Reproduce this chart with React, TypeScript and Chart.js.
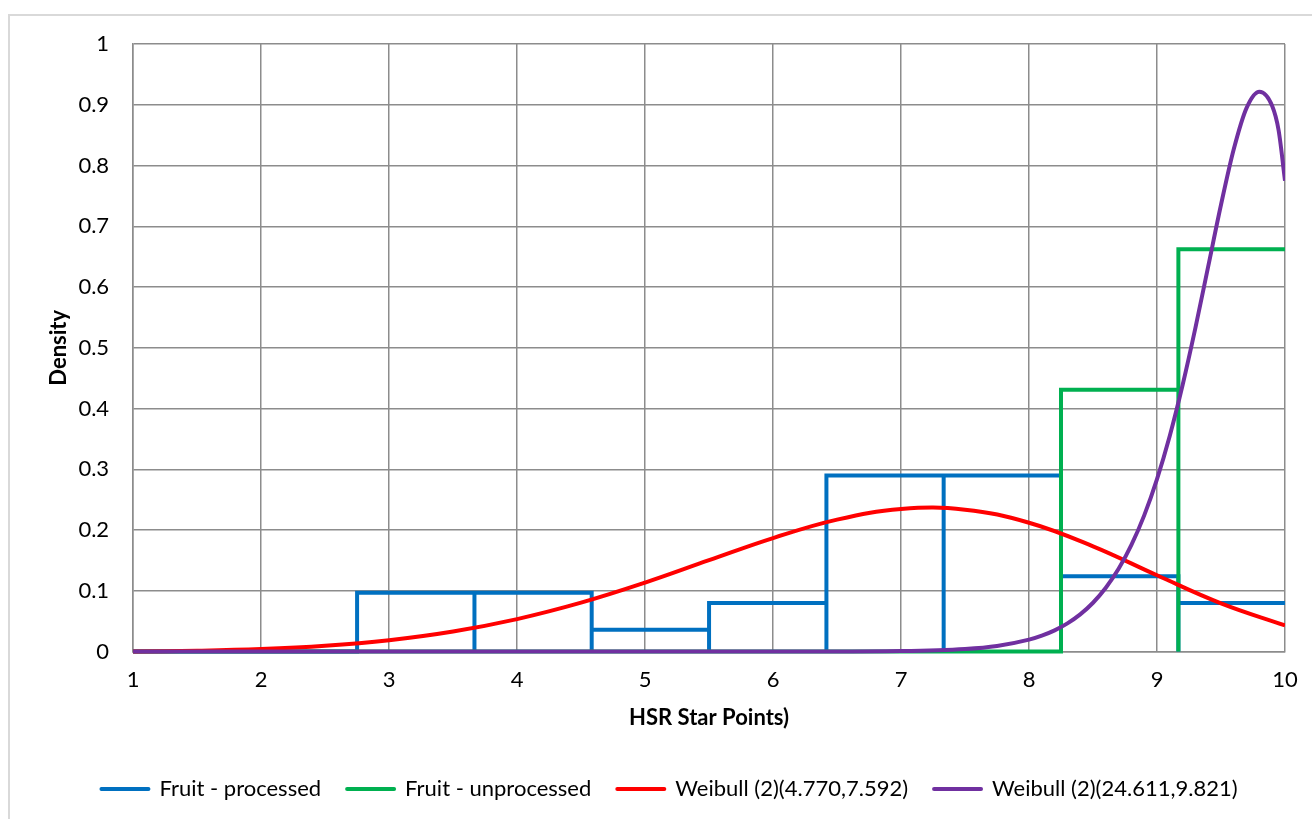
import React, { useEffect, useRef } from "react";
import { Chart, registerables } from "chart.js";

Chart.register(...registerables);

// Axis ticks
const xTickValues = [1, 2, 3, 4, 5, 6, 7, 8, 9, 10];
const yTickValues = [0, 0.1, 0.2, 0.3, 0.4, 0.5, 0.6, 0.7, 0.8, 0.9, 1];

// Histogram bins (HSR star points)
const binEdges = [2.75, 3.667, 4.583, 5.5, 6.417, 7.333, 8.25, 9.167, 10.083];
const processedDensity = [0.097, 0.097, 0.036, 0.08, 0.29, 0.29, 0.124, 0.08];
const unprocessedDensity = [0, 0, 0, 0, 0, 0, 0.431, 0.662];

// Fitted curves
const weibullRedX = [1, 1.5, 2, 2.5, 3, 3.5, 4, 4.5, 5, 5.5, 6, 6.5, 7, 7.5, 8, 8.5, 9, 9.5, 10];
const weibullRedY = [0.0003, 0.0014, 0.0041, 0.0095, 0.0188, 0.0331, 0.0535, 0.0805, 0.1135, 0.1504, 0.1868, 0.2172, 0.2346, 0.2336, 0.2121, 0.1733, 0.1256, 0.0794, 0.043];

const weibullPurpleX = [1, 2, 3, 4, 5, 6, 6.5, 7, 7.5, 7.75, 8, 8.1, 8.2, 8.3, 8.4, 8.5, 8.6, 8.7, 8.8, 8.9, 9, 9.1, 9.2, 9.3, 9.4, 9.5, 9.6, 9.7, 9.8, 9.9, 9.95, 10];
const weibullPurpleY = [0, 0, 0, 0, 0, 0, 0.0002, 0.0008, 0.0043, 0.0093, 0.0197, 0.0263, 0.035, 0.0464, 0.0612, 0.0804, 0.105, 0.1362, 0.1755, 0.2242, 0.2839, 0.3553, 0.4387, 0.5327, 0.6339, 0.7354, 0.8271, 0.8949, 0.9215, 0.898, 0.858, 0.775];

const seriesLabels = ["Fruit - processed", "Fruit - unprocessed", "Weibull (2)(4.770,7.592)", "Weibull (2)(24.611,9.821)"];
const seriesColors = ["#0070C0", "#00B050", "#FF0000", "#7030A0"];

const xTitle = "HSR Star Points)";
const yTitle = "Density";

function histogramOutline(edges: number[], heights: number[], start: number) {
  const pts: { x: number; y: number }[] = [{ x: start, y: 0 }];
  for (let i = 0; i < heights.length; i++) {
    const a = edges[i];
    const b = edges[i + 1];
    pts.push({ x: a, y: 0 }, { x: a, y: heights[i] }, { x: b, y: heights[i] }, { x: b, y: 0 });
  }
  return pts;
}

function zipPoints(xs: number[], ys: number[]) {
  return xs.map((x, i) => ({ x, y: ys[i] }));
}

const FONT = "Lato";
const FS = 22;

export default function App() {
  const ref = useRef<HTMLCanvasElement>(null);

  useEffect(() => {
    Chart.defaults.font.family = FONT;
    const lineBase = {
      borderWidth: 4,
      pointRadius: 0,
      pointHoverRadius: 0,
      fill: false,
      borderJoinStyle: "miter" as const,
      clip: { left: 2, top: 2, right: 0, bottom: 3 },
    };
    const chart = new Chart(ref.current!, {
      type: "line",
      data: {
        datasets: [
          {
            ...lineBase,
            label: seriesLabels[0],
            data: histogramOutline(binEdges, processedDensity, xTickValues[0]),
            borderColor: seriesColors[0],
            backgroundColor: seriesColors[0],
            tension: 0,
            order: 3,
          },
          {
            ...lineBase,
            label: seriesLabels[1],
            data: histogramOutline(binEdges, unprocessedDensity, xTickValues[0]),
            borderColor: seriesColors[1],
            backgroundColor: seriesColors[1],
            tension: 0,
            order: 2,
          },
          {
            ...lineBase,
            label: seriesLabels[2],
            data: zipPoints(weibullRedX, weibullRedY),
            borderColor: seriesColors[2],
            backgroundColor: seriesColors[2],
            tension: 0.4,
            order: 1,
          },
          {
            ...lineBase,
            label: seriesLabels[3],
            data: zipPoints(weibullPurpleX, weibullPurpleY),
            borderColor: seriesColors[3],
            backgroundColor: seriesColors[3],
            cubicInterpolationMode: "monotone",
            order: 0,
          },
        ],
      },
      options: {
        animation: false,
        responsive: false,
        events: [],
        layout: { padding: { left: 54, right: 27, top: 44, bottom: 9 } },
        plugins: {
          tooltip: { enabled: false },
          legend: {
            position: "bottom",
            labels: {
              usePointStyle: true,
              pointStyleWidth: 47,
              padding: 26,
              color: "#000",
              font: { size: FS, family: FONT },
              sort: (a: any, b: any) => a.datasetIndex - b.datasetIndex,
              generateLabels: (c: any) =>
                (Chart.defaults.plugins.legend.labels as any).generateLabels(c).map((it: any) => ({
                  ...it,
                  pointStyle: "line",
                  lineCap: "round",
                  lineWidth: 4,
                  strokeStyle: seriesColors[it.datasetIndex],
                  fillStyle: seriesColors[it.datasetIndex],
                })),
            },
          },
        },
        scales: {
          x: {
            type: "linear",
            min: 1,
            max: 10,
            afterBuildTicks: (s: any) => {
              s.ticks = xTickValues.map((v) => ({ value: v }));
            },
            ticks: {
              padding: 8,
              color: "#000",
              font: { size: FS, family: FONT, lineHeight: 1.818 },
              maxRotation: 0,
              autoSkip: false,
              callback: (v: any) => String(v),
            },
            grid: { color: "#8c8c8c", lineWidth: 1.5, drawTicks: false },
            border: { display: true, color: "#8c8c8c", width: 1.5 },
            title: {
              display: true,
              text: xTitle,
              color: "#000",
              font: { size: FS, weight: "bold", family: FONT },
              padding: { top: -3, bottom: 21 },
            },
          },
          y: {
            type: "linear",
            min: 0,
            max: 1,
            afterBuildTicks: (s: any) => {
              s.ticks = yTickValues.map((v) => ({ value: v }));
            },
            ticks: {
              padding: 24,
              color: "#000",
              font: { size: FS, family: FONT },
              callback: (v: any) => String(Math.round(Number(v) * 10) / 10),
            },
            grid: { color: "#8c8c8c", lineWidth: 1.5, drawTicks: false },
            border: { display: true, color: "#8c8c8c", width: 1.5 },
            title: {
              display: true,
              text: yTitle,
              color: "#000",
              font: { size: FS, weight: "bold", family: FONT },
              padding: { top: -8, bottom: -18 },
            },
          },
        },
      },
    });
    return () => chart.destroy();
  }, []);

  return (
    <div style={{ position: "fixed", left: 0, top: 0, width: 1312, height: 819, background: "#fff", overflow: "hidden" }}>
      <div
        style={{
          position: "absolute",
          left: 8,
          top: 14,
          width: 1400,
          height: 900,
          borderTop: "2px solid #d9d9d9",
          borderLeft: "2px solid #d9d9d9",
        }}
      />
      <canvas ref={ref} width={1312} height={819} style={{ position: "absolute", left: 0, top: 0, width: 1312, height: 819 }} />
    </div>
  );
}
